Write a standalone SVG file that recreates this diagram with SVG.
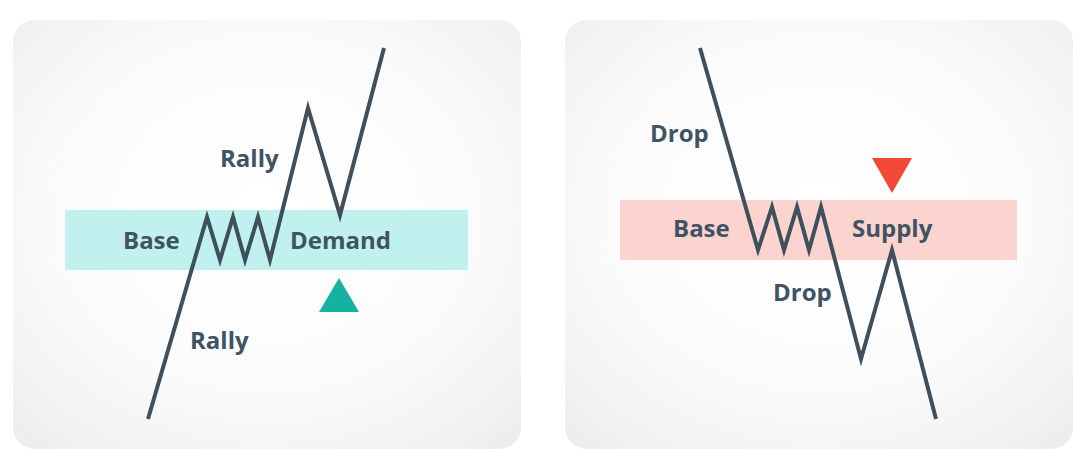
<svg xmlns="http://www.w3.org/2000/svg" width="1086" height="468" viewBox="0 0 1086 468">
  <defs>
    <radialGradient id="panelGrad" cx="50%" cy="45%" r="75%">
      <stop offset="0" stop-color="#ffffff"/>
      <stop offset="0.55" stop-color="#fbfbfb"/>
      <stop offset="1" stop-color="#ececec"/>
    </radialGradient>
  </defs>
  <style>
    .panel { fill: url(#panelGrad); }
    .price { fill: none; stroke: #3f505c; stroke-width: 4; stroke-linejoin: miter; stroke-miterlimit: 10; stroke-linecap: butt; }
    .lbl { font-family: "Open Sans", "Liberation Sans", sans-serif; font-weight: 700; font-size: 24px; fill: #3f5362; }
  </style>
  <rect width="1086" height="468" fill="#ffffff"/>

  <g id="demand-panel">
    <rect class="panel" x="13" y="20" width="508" height="429" rx="22"/>
    <rect id="demand-zone" x="65" y="210" width="403" height="60" fill="#c1f1ee"/>
    <polygon id="demand-arrow" points="339,278 359,312 319,312" fill="#15b1a1"/>
  </g>

  <g id="supply-panel">
    <rect class="panel" x="565" y="20" width="508" height="429" rx="22"/>
    <rect id="supply-zone" x="620" y="200" width="397" height="60" fill="#fbd4d0"/>
    <polygon id="supply-arrow" points="872,158 912,158 892,193" fill="#f04a37"/>
  </g>

  <g id="connectors">
    <polyline class="price" points="148,419 207,217 220,260 233,217 245,260 258,217 270,260 308,108 340,215 384,48"/>
    <polyline class="price" points="700,48 758,250 772,207 784,250 797,207 809,250 821,207 861,359 892,250 936,419"/>
  </g>

  <g id="labels-left">
    <text class="lbl" x="220" y="167">Rally</text>
    <text class="lbl" x="123" y="249">Base</text>
    <text class="lbl" x="290" y="249">Demand</text>
    <text class="lbl" x="190" y="349">Rally</text>
  </g>
  <g id="labels-right">
    <text class="lbl" x="650" y="142">Drop</text>
    <text class="lbl" x="673" y="237">Base</text>
    <text class="lbl" x="852" y="237">Supply</text>
    <text class="lbl" x="773" y="301">Drop</text>
  </g>
</svg>
